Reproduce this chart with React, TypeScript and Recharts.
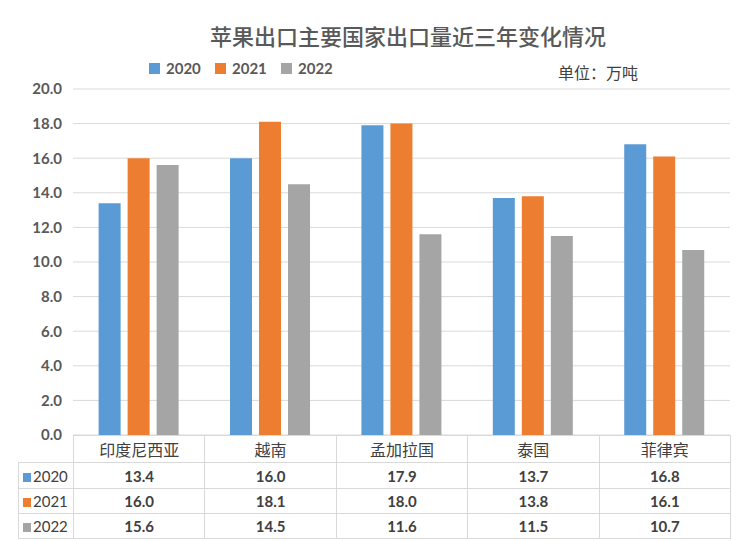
import React from 'react';
import { BarChart, Bar, XAxis, YAxis, CartesianGrid } from 'recharts';

// chart values
const categories = ['印度尼西亚', '越南', '孟加拉国', '泰国', '菲律宾'];
const years = ['2020', '2021', '2022'];
const values2020 = [13.4, 16.0, 17.9, 13.7, 16.8];
const values2021 = [16.0, 18.1, 18.0, 13.8, 16.1];
const values2022 = [15.6, 14.5, 11.6, 11.5, 10.7];
const yTicks = [0, 2, 4, 6, 8, 10, 12, 14, 16, 18, 20];

const colors = ['#5B9BD5', '#ED7D31', '#A5A5A5'];
const seriesValues = [values2020, values2021, values2022];

const data = categories.map((name, i) => ({
  name,
  y2020: values2020[i],
  y2021: values2021[i],
  y2022: values2022[i],
}));

const numFont = 'Lato, "Noto Sans", sans-serif';
const cjkFont = '"Noto Sans CJK SC", sans-serif';
const border = '1px solid #d9d9d9';

const App: React.FC = () => {
  return (
    <div style={{ position: 'absolute', left: 0, top: 0, width: 749, height: 541, background: '#fff' }}>
      <div
        style={{
          position: 'absolute', top: 19, left: 0, width: 816, textAlign: 'center',
          fontFamily: cjkFont, fontSize: 22, color: '#595959', fontWeight: 500,
        }}
      >
        苹果出口主要国家出口量近三年变化情况
      </div>

      {/* legend */}
      <div style={{ position: 'absolute', top: 59, left: 149, display: 'flex', fontFamily: numFont, fontWeight: 'bold', fontSize: 15, color: '#595959' }}>
        {years.map((y, i) => (
          <div key={y} style={{ display: 'flex', alignItems: 'center', width: 66 }}>
            <span style={{ display: 'inline-block', width: 11, height: 11, background: colors[i], marginRight: 6 }} />
            <span>{y}</span>
          </div>
        ))}
      </div>

      <div style={{ position: 'absolute', top: 60, left: 558, fontFamily: cjkFont, fontSize: 16, color: '#404040' }}>
        单位：万吨
      </div>

      <BarChart
        width={749}
        height={541}
        data={data}
        margin={{ top: 89, right: 19, bottom: 106, left: 0 }}
        barCategoryGap="19.5%"
        barGap={7}
      >
        <CartesianGrid vertical={false} stroke="#d9d9d9" />
        <XAxis dataKey="name" hide />
        <YAxis
          width={73}
          domain={[0, 20]}
          ticks={yTicks}
          tickFormatter={(v: number) => v.toFixed(1)}
          axisLine={false}
          tickLine={false}
          tickMargin={5}
          tick={{ fill: '#595959', fontFamily: numFont, fontWeight: 'bold', fontSize: 15 }}
        />
        <Bar dataKey="y2020" fill={colors[0]} isAnimationActive={false} />
        <Bar dataKey="y2021" fill={colors[1]} isAnimationActive={false} />
        <Bar dataKey="y2022" fill={colors[2]} isAnimationActive={false} />
      </BarChart>

      {/* data table */}
      <table
        style={{
          position: 'absolute', left: 18, top: 435, width: 712, borderCollapse: 'collapse',
          tableLayout: 'fixed', color: '#404040',
        }}
      >
        <colgroup>
          <col style={{ width: 55 }} />
          {categories.map((c) => (
            <col key={c} style={{ width: 131.4 }} />
          ))}
        </colgroup>
        <tbody>
          <tr style={{ height: 27 }}>
            <td style={{ border: 'none', padding: 0 }} />
            {categories.map((c) => (
              <td key={c} style={{ border, padding: 0, textAlign: 'center', fontFamily: cjkFont, fontSize: 16 }}>
                {c}
              </td>
            ))}
          </tr>
          {years.map((y, i) => (
            <tr key={y} style={{ height: i === 0 ? 26 : 25 }}>
              <td style={{ border, padding: 0, fontFamily: numFont, fontSize: 15, whiteSpace: 'nowrap' }}>
                <span style={{ display: 'inline-block', width: 8, height: 9, background: colors[i], margin: '0 2px 0 4px' }} />
                {y}
              </td>
              {seriesValues[i].map((v, j) => (
                <td key={j} style={{ border, padding: 0, textAlign: 'center', fontFamily: numFont, fontWeight: 'bold', fontSize: 15 }}>
                  {v.toFixed(1)}
                </td>
              ))}
            </tr>
          ))}
        </tbody>
      </table>
    </div>
  );
};

export default App;
